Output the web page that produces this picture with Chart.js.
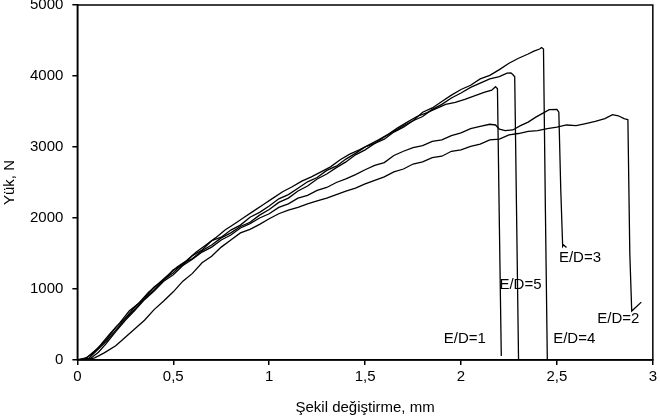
<!DOCTYPE html>
<html>
<head>
<meta charset="utf-8">
<script src="https://cdn.jsdelivr.net/npm/chart.js@4/dist/chart.umd.min.js"></script>
<style>
  html, body { margin: 0; padding: 0; background: #fff; }
  #wrap { width: 660px; height: 419px; }
</style>
</head>
<body>
<div id="wrap"><canvas id="loadChart" width="660" height="419"></canvas></div>
<script>
// series: x = deformation (mm), y = load (N)
const ed1_x = [0, 0.04, 0.08, 0.12, 0.17, 0.22, 0.27, 0.32, 0.37, 0.42, 0.47, 0.52, 0.57, 0.62, 0.67, 0.72, 0.77, 0.82, 0.87, 0.92, 0.97, 1.02, 1.07, 1.12, 1.17, 1.22, 1.27, 1.32, 1.37, 1.42, 1.47, 1.52, 1.57, 1.62, 1.67, 1.72, 1.77, 1.82, 1.87, 1.92, 1.97, 2.02, 2.07, 2.12, 2.16, 2.18, 2.19, 2.2, 2.21];
const ed1_y = [0, 20, 90, 210, 370, 520, 690, 800, 950, 1070, 1190, 1310, 1400, 1520, 1620, 1720, 1830, 1920, 2010, 2100, 2190, 2280, 2370, 2440, 2520, 2580, 2650, 2720, 2820, 2900, 2960, 3030, 3100, 3180, 3270, 3350, 3430, 3480, 3540, 3600, 3630, 3670, 3720, 3770, 3800, 3850, 3820, 1900, 55];

const ed2_x = [0.05, 0.09, 0.14, 0.2, 0.25, 0.3, 0.35, 0.4, 0.45, 0.5, 0.55, 0.6, 0.65, 0.7, 0.75, 0.8, 0.85, 0.9, 0.95, 1.0, 1.05, 1.1, 1.15, 1.2, 1.25, 1.3, 1.35, 1.4, 1.45, 1.5, 1.55, 1.6, 1.65, 1.7, 1.75, 1.8, 1.85, 1.9, 1.95, 2.0, 2.05, 2.1, 2.15, 2.2, 2.25, 2.3, 2.35, 2.4, 2.45, 2.5, 2.55, 2.6, 2.65, 2.7, 2.75, 2.79, 2.82, 2.85, 2.87, 2.88, 2.89, 2.91, 2.94];
const ed2_y = [0, 30, 100, 200, 320, 440, 560, 710, 830, 960, 1110, 1220, 1370, 1460, 1590, 1690, 1790, 1840, 1910, 1990, 2060, 2110, 2150, 2200, 2240, 2280, 2330, 2380, 2420, 2480, 2530, 2580, 2650, 2690, 2760, 2790, 2850, 2870, 2940, 2960, 3010, 3040, 3100, 3110, 3170, 3190, 3220, 3230, 3260, 3280, 3310, 3300, 3330, 3360, 3400, 3455, 3440, 3400, 3385, 1500, 690, 740, 815];

const ed3_x = [0.03, 0.07, 0.11, 0.15, 0.2, 0.25, 0.3, 0.35, 0.4, 0.45, 0.5, 0.55, 0.6, 0.65, 0.7, 0.75, 0.8, 0.85, 0.9, 0.95, 1.0, 1.05, 1.1, 1.15, 1.2, 1.25, 1.3, 1.35, 1.4, 1.45, 1.5, 1.55, 1.6, 1.65, 1.7, 1.75, 1.8, 1.85, 1.9, 1.95, 2.0, 2.05, 2.1, 2.15, 2.18, 2.2, 2.23, 2.27, 2.31, 2.35, 2.39, 2.43, 2.46, 2.5, 2.51, 2.52, 2.53, 2.535, 2.55];
const ed3_y = [0, 25, 110, 230, 400, 560, 700, 850, 970, 1110, 1200, 1330, 1420, 1520, 1590, 1690, 1760, 1860, 1920, 2000, 2060, 2150, 2200, 2280, 2320, 2390, 2430, 2500, 2550, 2610, 2680, 2740, 2780, 2880, 2940, 2990, 3020, 3080, 3100, 3160, 3200, 3260, 3290, 3320, 3310, 3250, 3230, 3240, 3300, 3350, 3420, 3480, 3525, 3530, 3490, 2400, 1600, 1620, 1585];

const ed4_x = [0, 0.05, 0.1, 0.15, 0.2, 0.25, 0.3, 0.35, 0.4, 0.45, 0.5, 0.55, 0.6, 0.65, 0.7, 0.75, 0.8, 0.85, 0.9, 0.95, 1.0, 1.05, 1.1, 1.15, 1.2, 1.25, 1.3, 1.35, 1.4, 1.45, 1.5, 1.55, 1.6, 1.65, 1.7, 1.75, 1.8, 1.85, 1.9, 1.95, 2.0, 2.05, 2.1, 2.15, 2.2, 2.25, 2.3, 2.35, 2.38, 2.41, 2.42, 2.43, 2.44, 2.45];
const ed4_y = [0, 35, 150, 280, 460, 590, 750, 870, 1030, 1120, 1270, 1340, 1470, 1550, 1680, 1730, 1830, 1900, 2010, 2080, 2170, 2270, 2330, 2420, 2510, 2570, 2670, 2730, 2830, 2910, 3000, 3050, 3140, 3220, 3300, 3370, 3490, 3550, 3640, 3730, 3810, 3870, 3960, 4010, 4090, 4180, 4250, 4310, 4350, 4380, 4400, 4380, 2100, 0];

const ed5_x = [0.02, 0.06, 0.1, 0.15, 0.2, 0.25, 0.3, 0.35, 0.4, 0.45, 0.5, 0.55, 0.6, 0.65, 0.7, 0.75, 0.8, 0.85, 0.9, 0.95, 1.0, 1.05, 1.1, 1.15, 1.2, 1.25, 1.3, 1.35, 1.4, 1.45, 1.5, 1.55, 1.6, 1.65, 1.7, 1.75, 1.8, 1.85, 1.9, 1.95, 2.0, 2.05, 2.1, 2.15, 2.2, 2.24, 2.26, 2.27, 2.28, 2.29, 2.3];
const ed5_y = [0, 25, 130, 260, 420, 580, 720, 860, 990, 1130, 1230, 1360, 1430, 1540, 1620, 1720, 1790, 1880, 1940, 2040, 2120, 2220, 2280, 2380, 2450, 2550, 2620, 2710, 2790, 2890, 2960, 3050, 3110, 3210, 3280, 3370, 3430, 3530, 3600, 3690, 3760, 3840, 3900, 3960, 3990, 4040, 4045, 4020, 3990, 2000, 0];

// series names and where their tags sit (data units)
const series_names = ['E/D=1', 'E/D=2', 'E/D=3', 'E/D=4', 'E/D=5'];
const tag_x = [2.02, 2.82, 2.62, 2.59, 2.31];
const tag_y = [295, 576, 1432, 295, 1053];

const x_ticks = [0, 0.5, 1, 1.5, 2, 2.5, 3];
const y_ticks = [0, 1000, 2000, 3000, 4000, 5000];

const font_family = '"Liberation Sans", Arial, sans-serif';

function toPoints(xs, ys) {
  return xs.map((x, i) => ({x: x, y: ys[i]}));
}

const all_x = [ed1_x, ed2_x, ed3_x, ed4_x, ed5_x];
const all_y = [ed1_y, ed2_y, ed3_y, ed4_y, ed5_y];

const datasets = series_names.map((name, i) => ({
  label: name,
  data: toPoints(all_x[i], all_y[i]),
  borderColor: '#000',
  borderWidth: 1.3,
  pointRadius: 0,
  tension: 0,
  fill: false
}));

// box round the plot area + the E/D tags
const frameAndTags = {
  id: 'frameAndTags',
  afterDatasetsDraw(chart) {
    const {ctx, chartArea: {left, top, right, bottom}, scales: {x, y}} = chart;
    ctx.save();
    ctx.strokeStyle = '#000';
    ctx.lineWidth = 1.5;
    ctx.strokeRect(left, top, right - left, bottom - top);

    ctx.font = '15px ' + font_family;
    ctx.fillStyle = '#000';
    ctx.textAlign = 'center';
    ctx.textBaseline = 'middle';
    series_names.forEach((name, i) => {
      ctx.fillText(name, x.getPixelForValue(tag_x[i]), y.getPixelForValue(tag_y[i]));
    });
    ctx.restore();
  }
};

const config = {
  type: 'line',
  data: {datasets: datasets},
  options: {
    responsive: false,
    animation: false,
    layout: {padding: {top: 0, right: 4, bottom: 2, left: 1}},
    plugins: {
      legend: {display: false},
      tooltip: {enabled: false}
    },
    scales: {
      x: {
        type: 'linear',
        min: 0,
        max: 3,
        afterBuildTicks: (axis) => { axis.ticks = x_ticks.map(v => ({value: v})); },
        grid: {display: true, drawOnChartArea: false, drawTicks: true, tickLength: 5, color: '#000', lineWidth: 1.5},
        border: {display: true, color: '#000', width: 1.5},
        ticks: {
          color: '#000',
          padding: 3,
          maxRotation: 0,
          font: {family: font_family, size: 15},
          callback: (v) => String(v).replace('.', ',')
        },
        title: {
          display: true,
          text: 'Şekil değiştirme, mm',
          color: '#000',
          font: {family: font_family, size: 15},
          padding: {top: 10, bottom: 0}
        }
      },
      y: {
        type: 'linear',
        min: 0,
        max: 5000,
        afterBuildTicks: (axis) => { axis.ticks = y_ticks.map(v => ({value: v})); },
        // let the top tick label hang over the canvas edge like the original
        afterFit: (axis) => { axis.paddingTop = 5; },
        grid: {display: true, drawOnChartArea: false, drawTicks: true, tickLength: 5, color: '#000', lineWidth: 1.5},
        border: {display: true, color: '#000', width: 1.5},
        ticks: {
          color: '#000',
          padding: 9,
          font: {family: font_family, size: 15},
          callback: (v) => String(v)
        },
        title: {
          display: true,
          text: 'Yük, N',
          color: '#000',
          font: {family: font_family, size: 15},
          padding: {top: 0, bottom: 2}
        }
      }
    }
  },
  plugins: [frameAndTags]
};

new Chart(document.getElementById('loadChart'), config);
</script>
</body>
</html>
